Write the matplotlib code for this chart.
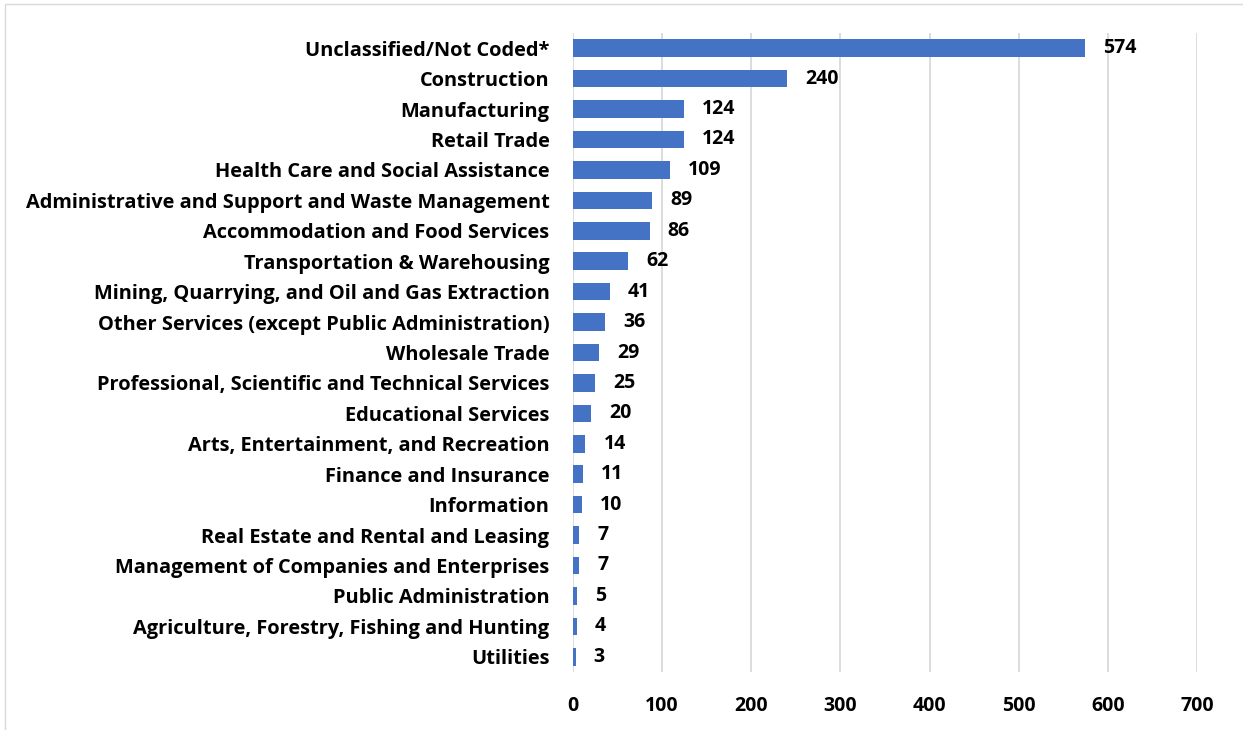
import matplotlib.pyplot as plt
from matplotlib.patches import Rectangle

# Industry categories, top to bottom as shown
industries = [
    "Unclassified/Not Coded*",
    "Construction",
    "Manufacturing",
    "Retail Trade",
    "Health Care and Social Assistance",
    "Administrative and Support and Waste Management",
    "Accommodation and Food Services",
    "Transportation & Warehousing",
    "Mining, Quarrying, and Oil and Gas Extraction",
    "Other Services (except Public Administration)",
    "Wholesale Trade",
    "Professional, Scientific and Technical Services",
    "Educational Services",
    "Arts, Entertainment, and Recreation",
    "Finance and Insurance",
    "Information",
    "Real Estate and Rental and Leasing",
    "Management of Companies and Enterprises",
    "Public Administration",
    "Agriculture, Forestry, Fishing and Hunting",
    "Utilities",
]
counts = [574, 240, 124, 124, 109, 89, 86, 62, 41, 36, 29, 25, 20, 14, 11, 10, 7, 7, 5, 4, 3]
x_ticks = [0, 100, 200, 300, 400, 500, 600, 700]

bar_color = "#4472C4"
grid_color = "#d9d9d9"
plt.rcParams['font.family'] = ['Open Sans', 'DejaVu Sans']

fig = plt.figure(figsize=(12.43, 7.30), dpi=100)
ax = fig.add_axes([573 / 1243, 1 - 672 / 730, (1197 - 573) / 1243, (672 - 33) / 730])

pos = list(range(len(industries)))
ax.barh(pos, counts, height=0.58, color=bar_color, zorder=3)

for y, v in zip(pos, counts):
    ax.annotate(str(v), xy=(v, y), xytext=(13, 0), textcoords="offset points",
                ha="left", va="center", fontsize=14, fontweight="bold", color="black")

ax.set_ylim(len(industries) - 0.5, -0.5)
ax.set_xlim(0, 700)
ax.set_xticks(x_ticks)
ax.set_yticks(pos)
ax.set_yticklabels(industries, fontsize=14.4, fontweight="bold")
for lbl in ax.get_xticklabels():
    lbl.set_fontsize(14)
    lbl.set_fontweight("bold")

ax.xaxis.grid(True, color=grid_color, linewidth=1.3, zorder=0)
ax.tick_params(axis="both", length=0)
ax.tick_params(axis="x", pad=17)
ax.tick_params(axis="y", pad=17)
for s in ax.spines.values():
    s.set_visible(False)

# outer chart frame
fig.patches.append(Rectangle((5 / 1243, -0.1), 1.2, 1.1 - 4 / 730, transform=fig.transFigure,
                             fill=False, edgecolor=grid_color, linewidth=1))

fig.savefig("out.png", dpi=100)
